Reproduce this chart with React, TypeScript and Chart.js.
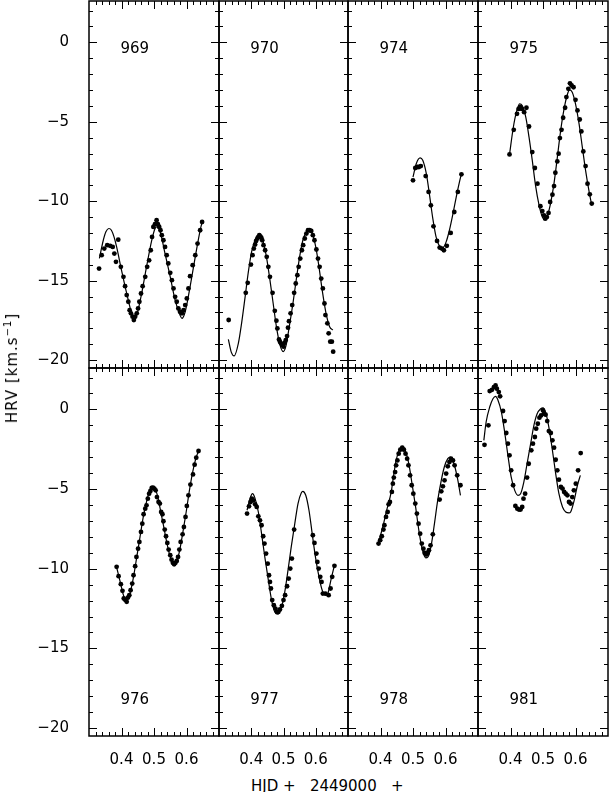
import React, { useEffect, useRef } from 'react';
import { Chart, registerables } from 'chart.js';

Chart.register(...registerables);

const FONT = '"DejaVu Sans", sans-serif';
const X_MIN = 0.3;
const X_MAX = 0.7;
const Y_MIN = -20.5;
const Y_MAX = 2.6;
const xTickLabels = [0.4, 0.5, 0.6];
const yTickLabels = [0, -5, -10, -15, -20];
const nightLabels = ['969', '970', '974', '975', '976', '977', '978', '981'];

const obs969 = [
  [0.331, -14.24], [0.339, -13.4], [0.347, -12.98], [0.356, -12.77], [0.365, -12.81], [0.373, -12.88],
  [0.378, -13.3], [0.383, -13.82], [0.39, -12.42], [0.398, -14.13], [0.406, -14.76], [0.411, -15.35],
  [0.416, -15.91], [0.421, -16.33], [0.425, -16.86], [0.429, -17.06], [0.434, -17.27], [0.438, -17.48],
  [0.442, -17.27], [0.447, -17.06], [0.451, -16.75], [0.455, -16.33], [0.46, -15.81], [0.465, -15.35],
  [0.473, -14.76], [0.479, -14.13], [0.485, -13.72], [0.49, -13.09], [0.494, -12.25], [0.498, -11.62],
  [0.503, -11.45], [0.508, -11.2], [0.512, -11.45], [0.516, -11.62], [0.52, -11.83], [0.524, -12.14],
  [0.529, -12.46], [0.534, -12.88], [0.539, -13.4], [0.544, -13.92], [0.55, -14.51], [0.555, -14.97],
  [0.56, -15.49], [0.565, -16.02], [0.57, -16.33], [0.575, -16.75], [0.58, -16.96], [0.586, -17.06],
  [0.591, -16.86], [0.596, -16.54], [0.601, -16.12], [0.606, -15.49], [0.611, -14.72], [0.619, -14.03],
  [0.627, -13.4], [0.634, -12.67], [0.642, -11.83], [0.648, -11.31],
];
const fit969 = [
  [0.332, -13.6], [0.344, -12.46], [0.352, -11.93], [0.361, -11.72], [0.369, -11.83], [0.377, -12.25],
  [0.385, -12.88], [0.4, -14.34], [0.416, -15.81], [0.431, -17.06], [0.439, -17.5], [0.447, -17.16],
  [0.462, -15.81], [0.477, -14.13], [0.493, -12.46], [0.503, -11.73], [0.508, -11.62], [0.519, -11.93],
  [0.534, -13.3], [0.55, -14.76], [0.565, -16.23], [0.58, -17.17], [0.586, -17.38], [0.596, -16.96],
  [0.611, -15.39], [0.627, -13.5], [0.642, -11.83], [0.649, -11.24],
];

const obs970 = [
  [0.33, -17.48], [0.383, -15.77], [0.389, -15.14], [0.399, -13.99], [0.404, -13.4], [0.408, -12.98],
  [0.412, -12.73], [0.415, -12.5], [0.419, -12.35], [0.422, -12.25], [0.425, -12.14], [0.428, -12.21],
  [0.431, -12.29], [0.434, -12.46], [0.438, -12.77], [0.443, -13.09], [0.448, -13.5], [0.453, -14.13],
  [0.458, -14.76], [0.466, -15.77], [0.473, -16.9], [0.478, -17.52], [0.481, -18.01], [0.486, -18.7],
  [0.489, -18.84], [0.492, -18.95], [0.496, -19.05], [0.5, -19.16], [0.504, -18.91], [0.507, -18.74],
  [0.511, -18.49], [0.514, -17.96], [0.517, -17.55], [0.522, -17.06], [0.527, -16.54], [0.533, -15.77],
  [0.538, -15.18], [0.543, -14.66], [0.547, -14.13], [0.552, -13.61], [0.557, -13.09], [0.561, -12.77],
  [0.566, -12.35], [0.571, -12.04], [0.576, -11.83], [0.581, -11.83], [0.586, -11.87], [0.591, -12.14],
  [0.596, -12.46], [0.602, -13.04], [0.607, -13.61], [0.612, -14.13], [0.617, -14.87], [0.622, -15.49],
  [0.627, -16.44], [0.63, -17.17], [0.636, -17.69], [0.64, -18.32], [0.645, -18.84], [0.65, -18.84],
  [0.654, -19.47],
];
const fit970 = [
  [0.329, -18.7], [0.338, -19.5], [0.347, -19.74], [0.36, -18.95], [0.37, -17.69], [0.381, -16.02],
  [0.391, -14.45], [0.401, -13.19], [0.412, -12.46], [0.425, -12.14], [0.437, -12.56], [0.448, -13.61],
  [0.458, -14.97], [0.468, -16.44], [0.478, -17.9], [0.489, -19.05], [0.499, -19.47], [0.507, -19.16],
  [0.517, -18.01], [0.53, -16.33], [0.54, -14.87], [0.55, -13.5], [0.56, -12.46], [0.571, -11.93],
  [0.579, -11.79], [0.589, -12.0], [0.6, -12.88], [0.61, -14.13], [0.62, -15.6], [0.631, -16.96],
  [0.643, -17.9], [0.653, -18.11],
];

const obs974 = [
  [0.5, -8.69], [0.507, -7.91], [0.513, -7.85], [0.518, -7.85], [0.524, -7.79], [0.539, -8.42],
  [0.548, -9.42], [0.555, -10.26], [0.563, -11.58], [0.574, -12.5], [0.582, -12.92], [0.589, -12.98],
  [0.595, -13.09], [0.604, -12.81], [0.616, -12.0], [0.627, -10.68], [0.638, -9.42], [0.649, -8.31],
];
const fit974 = [
  [0.5, -8.48], [0.51, -7.64], [0.522, -7.27], [0.53, -7.43], [0.541, -8.27], [0.551, -9.63],
  [0.561, -11.1], [0.571, -12.25], [0.582, -12.83], [0.592, -12.92], [0.602, -12.56], [0.612, -11.83],
  [0.623, -10.78], [0.633, -9.74], [0.643, -8.79], [0.649, -8.27],
];

const obs975 = [
  [0.397, -7.06], [0.41, -5.51], [0.42, -4.5], [0.425, -4.19], [0.43, -4.08], [0.435, -4.19],
  [0.442, -4.4], [0.449, -4.12], [0.457, -5.3], [0.467, -6.91], [0.475, -7.91], [0.483, -8.9],
  [0.492, -10.32], [0.498, -10.62], [0.503, -10.89], [0.507, -11.1], [0.512, -11.0], [0.517, -10.74],
  [0.522, -10.05], [0.529, -9.59], [0.534, -9.05], [0.538, -8.21], [0.544, -7.5], [0.548, -7.01],
  [0.552, -6.03], [0.557, -5.51], [0.562, -4.75], [0.568, -4.12], [0.572, -3.45], [0.578, -2.93],
  [0.583, -2.58], [0.588, -2.72], [0.594, -2.83], [0.6, -3.62], [0.606, -4.29], [0.613, -4.86],
  [0.618, -5.61], [0.624, -6.87], [0.631, -7.79], [0.637, -8.9], [0.644, -9.57], [0.65, -10.15],
];
const fit975 = [
  [0.397, -7.06], [0.408, -5.44], [0.418, -4.4], [0.428, -3.87], [0.436, -3.98], [0.447, -4.71],
  [0.457, -5.97], [0.467, -7.43], [0.477, -9.0], [0.488, -10.26], [0.498, -10.99], [0.505, -11.16],
  [0.512, -11.0], [0.522, -10.26], [0.533, -9.0], [0.543, -7.43], [0.553, -5.76], [0.564, -4.29],
  [0.574, -3.35], [0.582, -3.0], [0.59, -3.14], [0.6, -3.87], [0.611, -5.13], [0.621, -6.6],
  [0.631, -8.06], [0.642, -9.42], [0.65, -10.26],
];

const obs976 = [
  [0.385, -9.88], [0.391, -10.47], [0.398, -10.97], [0.403, -11.39], [0.407, -11.87], [0.412, -11.97],
  [0.416, -12.08], [0.42, -11.81], [0.424, -11.66], [0.428, -11.35], [0.433, -10.93], [0.437, -10.41],
  [0.442, -9.84], [0.446, -9.26], [0.451, -8.74], [0.455, -8.32], [0.46, -7.69], [0.464, -7.17],
  [0.468, -6.58], [0.473, -6.23], [0.477, -6.02], [0.481, -5.6], [0.485, -5.29], [0.489, -5.12],
  [0.493, -4.93], [0.497, -4.91], [0.501, -4.97], [0.505, -5.08], [0.509, -5.5], [0.514, -5.81],
  [0.518, -5.91], [0.522, -6.44], [0.526, -6.58], [0.529, -7.02], [0.533, -7.54], [0.537, -7.96],
  [0.541, -8.38], [0.545, -8.8], [0.55, -9.15], [0.554, -9.43], [0.558, -9.63], [0.562, -9.72],
  [0.566, -9.63], [0.57, -9.51], [0.574, -9.26], [0.578, -8.8], [0.582, -8.32], [0.588, -7.84],
  [0.592, -7.38], [0.597, -6.75], [0.601, -6.06], [0.606, -5.39], [0.612, -4.72], [0.62, -4.08],
  [0.625, -3.47], [0.63, -3.03], [0.637, -2.61],
];
const fit976 = [
  [0.385, -9.9], [0.396, -10.83], [0.406, -11.66], [0.416, -12.02], [0.426, -11.56], [0.437, -10.51],
  [0.447, -9.26], [0.457, -8.0], [0.467, -6.75], [0.478, -5.71], [0.488, -5.08], [0.498, -4.87],
  [0.509, -5.29], [0.519, -6.23], [0.529, -7.27], [0.539, -8.32], [0.55, -9.26], [0.56, -9.72],
  [0.568, -9.63], [0.578, -8.94], [0.589, -7.69], [0.599, -6.44], [0.609, -5.08], [0.619, -3.93],
  [0.63, -2.99], [0.639, -2.53],
];

const obs977 = [
  [0.387, -6.54], [0.393, -6.08], [0.398, -5.81], [0.402, -5.6], [0.406, -5.71], [0.412, -5.96],
  [0.417, -6.12], [0.422, -6.71], [0.427, -6.96], [0.432, -7.27], [0.437, -7.96], [0.441, -8.42],
  [0.446, -9.05], [0.451, -9.68], [0.455, -10.41], [0.458, -10.83], [0.461, -11.24], [0.465, -11.97],
  [0.47, -12.29], [0.475, -12.5], [0.48, -12.71], [0.484, -12.71], [0.489, -12.56], [0.495, -12.33],
  [0.5, -11.97], [0.505, -11.66], [0.511, -11.1], [0.516, -10.62], [0.521, -9.99], [0.526, -9.36],
  [0.533, -7.54], [0.591, -7.9], [0.596, -8.38], [0.602, -9.05], [0.605, -9.57], [0.609, -9.99],
  [0.614, -10.51], [0.618, -10.83], [0.622, -11.56], [0.63, -11.56], [0.64, -11.66], [0.646, -11.24],
  [0.651, -10.51], [0.658, -9.82],
];
const fit977 = [
  [0.387, -6.33], [0.396, -5.6], [0.404, -5.29], [0.411, -5.54], [0.422, -6.44], [0.432, -7.8],
  [0.442, -9.26], [0.453, -10.72], [0.463, -11.97], [0.473, -12.71], [0.483, -12.85], [0.494, -12.39],
  [0.504, -11.45], [0.514, -10.09], [0.524, -8.63], [0.535, -7.17], [0.545, -5.91], [0.555, -5.25],
  [0.56, -5.14], [0.569, -5.39], [0.579, -6.33], [0.589, -7.8], [0.599, -9.26], [0.61, -10.51],
  [0.62, -11.35], [0.63, -11.66], [0.638, -11.52], [0.648, -10.62], [0.658, -9.78],
];

const obs978 = [
  [0.394, -8.42], [0.399, -8.21], [0.404, -7.96], [0.409, -7.54], [0.412, -7.27], [0.417, -6.75],
  [0.422, -6.44], [0.425, -5.96], [0.429, -5.81], [0.435, -5.18], [0.438, -4.66], [0.441, -4.28],
  [0.445, -3.93], [0.448, -3.51], [0.452, -3.2], [0.456, -2.78], [0.461, -2.53], [0.467, -2.4],
  [0.472, -2.53], [0.477, -2.78], [0.482, -3.09], [0.486, -3.51], [0.491, -4.14], [0.496, -4.76],
  [0.501, -5.29], [0.507, -5.91], [0.512, -6.54], [0.517, -7.17], [0.522, -7.8], [0.527, -8.42],
  [0.532, -8.74], [0.536, -9.01], [0.54, -9.11], [0.545, -9.01], [0.549, -8.84], [0.554, -8.53],
  [0.561, -7.84], [0.582, -5.66], [0.587, -5.14], [0.592, -4.83], [0.597, -4.45], [0.602, -4.03],
  [0.607, -3.57], [0.612, -3.3], [0.617, -3.09], [0.623, -3.2], [0.628, -3.51], [0.636, -4.14],
  [0.646, -4.76],
];
const fit978 = [
  [0.394, -8.32], [0.407, -7.38], [0.419, -6.33], [0.433, -5.18], [0.44, -4.2], [0.448, -3.2],
  [0.458, -2.53], [0.466, -2.32], [0.476, -2.57], [0.487, -3.41], [0.497, -4.66], [0.508, -6.12],
  [0.518, -7.59], [0.528, -8.74], [0.539, -9.32], [0.546, -9.26], [0.556, -8.53], [0.566, -7.17],
  [0.576, -5.71], [0.587, -4.45], [0.597, -3.57], [0.607, -3.09], [0.615, -2.99], [0.626, -3.41],
  [0.636, -4.24], [0.646, -5.39],
];

const obs981 = [
  [0.32, -2.22], [0.332, -1.0], [0.336, 1.15], [0.343, 1.23], [0.349, 1.4], [0.354, 1.5],
  [0.358, 1.3], [0.364, 1.09], [0.368, 0.82], [0.377, -0.1], [0.382, -0.73], [0.387, -1.48],
  [0.392, -2.15], [0.397, -2.88], [0.402, -3.82], [0.408, -4.76], [0.415, -6.06], [0.421, -6.23],
  [0.426, -6.29], [0.431, -6.29], [0.436, -6.12], [0.44, -5.6], [0.445, -5.29], [0.451, -4.28],
  [0.456, -3.41], [0.464, -2.57], [0.469, -2.15], [0.475, -1.73], [0.479, -1.21], [0.484, -0.9],
  [0.489, -0.52], [0.494, -0.38], [0.5, -0.06], [0.503, -0.27], [0.508, -0.33], [0.513, -0.73],
  [0.518, -1.36], [0.524, -1.48], [0.529, -1.94], [0.534, -2.4], [0.539, -3.16], [0.544, -3.82],
  [0.549, -4.41], [0.555, -4.87], [0.56, -4.97], [0.565, -5.18], [0.57, -5.29], [0.575, -5.39],
  [0.58, -5.81], [0.585, -5.91], [0.59, -5.5], [0.595, -5.08], [0.601, -4.66], [0.608, -3.82],
  [0.616, -2.74],
];
const fit981 = [
  [0.318, -1.94], [0.325, -0.79], [0.336, 0.15], [0.346, 0.67], [0.354, 0.82], [0.361, 0.61],
  [0.372, -0.17], [0.382, -1.42], [0.392, -2.88], [0.402, -4.24], [0.413, -5.08], [0.423, -5.39],
  [0.431, -5.29], [0.441, -4.56], [0.451, -3.41], [0.462, -2.15], [0.472, -1.0], [0.482, -0.27],
  [0.493, 0.04], [0.5, 0.1], [0.508, -0.17], [0.518, -1.11], [0.529, -2.57], [0.539, -4.03],
  [0.549, -5.29], [0.56, -6.12], [0.57, -6.44], [0.58, -6.5], [0.585, -6.44], [0.596, -5.71],
  [0.606, -4.76], [0.615, -4.14],
];

const observed = [obs969, obs970, obs974, obs975, obs976, obs977, obs978, obs981];
const fitted = [fit969, fit970, fit974, fit975, fit976, fit977, fit978, fit981];

// layout (pixels)
const COL_LEFT = [89, 219, 348, 478];
const COL_W = [130, 129, 130, 130];
const ROW_TOP = [1, 368];
const ROW_H = [367, 368];

const fmtY = (v: number) => (v < 0 ? '\u2212' + Math.abs(v) : String(v));

const framePlugin = {
  id: 'panelFrame',
  afterDatasetsDraw(chart: any, _args: any, opts: any) {
    const { ctx, chartArea: a } = chart;
    const xs = chart.scales.x;
    const ys = chart.scales.y;
    ctx.save();
    ctx.strokeStyle = '#000';
    ctx.lineWidth = 1;
    ctx.beginPath();
    for (let i = 16; i <= 34; i++) {
      const v = i / 50;
      const major = i % 5 === 0;
      const len = major ? 8 : 4;
      const px = Math.round(xs.getPixelForValue(v)) + 0.5;
      ctx.moveTo(px, a.bottom);
      ctx.lineTo(px, a.bottom - len);
      ctx.moveTo(px, a.top);
      ctx.lineTo(px, a.top + len);
    }
    for (let v = -20; v <= 2; v++) {
      const major = v % 5 === 0;
      const len = major ? 8 : 4;
      const py = Math.round(ys.getPixelForValue(v)) + 0.5;
      ctx.moveTo(a.left, py);
      ctx.lineTo(a.left + len, py);
      ctx.moveTo(a.right, py);
      ctx.lineTo(a.right - len, py);
    }
    ctx.stroke();
    ctx.lineWidth = 1.5;
    ctx.strokeRect(a.left, a.top, a.right - a.left, a.bottom - a.top);
    ctx.fillStyle = '#000';
    ctx.font = '15px ' + FONT;
    ctx.textAlign = 'left';
    ctx.textBaseline = 'alphabetic';
    ctx.fillText(opts.label, xs.getPixelForValue(0.4) - 1, ys.getPixelForValue(opts.labelY));
    ctx.restore();
  },
};

function Panel({ idx }: { idx: number }) {
  const ref = useRef<HTMLCanvasElement | null>(null);
  const row = idx < 4 ? 0 : 1;
  const col = idx % 4;
  const pl = COL_LEFT[col];
  const pw = COL_W[col];
  const pt = ROW_TOP[row];
  const ph = ROW_H[row];
  const cl = col === 0 ? 0 : pl - 5;
  const cr = Math.min(609, pl + pw + 5);
  const ct = row === 0 ? 0 : pt - 5;
  const cb = row === 1 ? 772 : pt + ph + 5;
  const W = cr - cl;
  const H = cb - ct;
  const showX = row === 1;
  const showY = col === 0;

  useEffect(() => {
    const chart = new Chart(ref.current as HTMLCanvasElement, {
      type: 'scatter',
      data: {
        datasets: [
          {
            type: 'scatter',
            data: observed[idx].map(([x, y]) => ({ x, y })),
            pointRadius: 2.4,
            pointBackgroundColor: '#000',
            pointBorderWidth: 0,
            pointBorderColor: '#000',
          } as any,
          {
            type: 'line',
            data: fitted[idx].map(([x, y]) => ({ x, y })),
            borderColor: '#000',
            borderWidth: 1.2,
            pointRadius: 0,
            fill: false,
            cubicInterpolationMode: 'monotone',
          } as any,
        ],
      },
      options: {
        responsive: false,
        animation: false,
        devicePixelRatio: 1,
        events: [],
        layout: {
          autoPadding: false,
          padding: {
            left: showY ? 0 : pl - cl,
            right: cr - (pl + pw),
            top: pt - ct,
            bottom: showX ? 0 : cb - (pt + ph),
          },
        },
        plugins: {
          legend: { display: false },
          tooltip: { enabled: false },
          panelFrame: { label: nightLabels[idx], labelY: row === 0 ? -0.67 : -18.5 },
        } as any,
        scales: {
          x: {
            type: 'linear',
            min: X_MIN,
            max: X_MAX,
            display: showX,
            position: 'bottom',
            grid: { display: false },
            border: { display: false },
            afterBuildTicks: (s: any) => {
              s.ticks = xTickLabels.map((v) => ({ value: v }));
            },
            afterFit: (s: any) => {
              if (showX) s.height = cb - (pt + ph);
              s.paddingLeft = 0;
              s.paddingRight = 0;
              s.paddingTop = 0;
              s.paddingBottom = 0;
            },
            ticks: {
              padding: 7,
              autoSkip: false,
              maxRotation: 0,
              color: '#000',
              font: { family: FONT, size: 15 },
              callback: (v: any) => Number(v).toFixed(1),
            },
          },
          y: {
            type: 'linear',
            min: Y_MIN,
            max: Y_MAX,
            display: showY,
            position: 'left',
            grid: { display: false },
            border: { display: false },
            afterBuildTicks: (s: any) => {
              s.ticks = yTickLabels.map((v) => ({ value: v }));
            },
            afterFit: (s: any) => {
              if (showY) s.width = pl - cl;
              s.paddingLeft = 0;
              s.paddingRight = 0;
              s.paddingTop = 0;
              s.paddingBottom = 0;
            },
            ticks: {
              padding: 12,
              autoSkip: false,
              color: '#000',
              font: { family: FONT, size: 15 },
              callback: (v: any) => fmtY(Number(v)),
            },
          },
        },
      } as any,
      plugins: [framePlugin as any],
    });
    return () => chart.destroy();
  }, []);

  return (
    <canvas
      ref={ref}
      width={W}
      height={H}
      style={{ position: 'absolute', left: cl, top: ct, width: W, height: H }}
    />
  );
}

export default function App() {
  return (
    <div
      style={{
        position: 'absolute',
        left: 0,
        top: 0,
        width: 609,
        height: 792,
        overflow: 'hidden',
        background: '#fff',
      }}
    >
      {nightLabels.map((_, i) => (
        <Panel key={i} idx={i} />
      ))}
      <div
        style={{
          position: 'absolute',
          left: 13,
          top: 368,
          transform: 'translate(-50%, -50%) rotate(-90deg)',
          whiteSpace: 'nowrap',
          fontFamily: FONT,
          fontSize: 15,
          letterSpacing: 1,
          lineHeight: '15px',
          color: '#000',
        }}
      >
        HRV [km.s
        <span style={{ fontSize: 10, position: 'relative', top: -6 }}>{'\u22121'}</span>]
      </div>
      <div
        style={{
          position: 'absolute',
          left: 251,
          top: 778.5,
          whiteSpace: 'pre',
          fontFamily: FONT,
          fontSize: 15,
          lineHeight: '15px',
          color: '#000',
        }}
      >
        {'HJD +   2449000   +'}
      </div>
    </div>
  );
}
